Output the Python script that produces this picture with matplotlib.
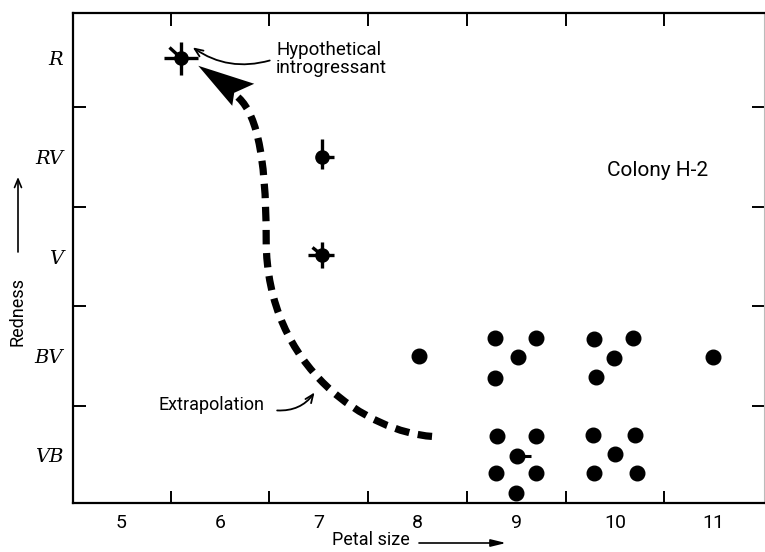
import matplotlib
matplotlib.use("Agg")
import matplotlib.pyplot as plt
from matplotlib.path import Path
from matplotlib.patches import PathPatch, Polygon
from matplotlib import font_manager
import numpy as np

# ---------------- data ----------------
petal_ticks = [5, 6, 7, 8, 9, 10, 11]
redness_labels = ["VB", "BV", "V", "RV", "R"]
redness_pos = [0, 1, 2, 3, 4]

bv_x = [8.02, 8.78, 9.20, 9.02, 8.78, 9.79, 10.18, 9.99, 9.81, 10.99]
bv_y = [1.00, 1.18, 1.18, 0.99, 0.78, 1.17, 1.18, 0.98, 0.79, 0.99]

vb_x = [8.81, 9.20, 9.01, 8.80, 9.20, 9.00, 9.78, 10.20, 10.00, 9.79, 10.22]
vb_y = [0.19, 0.19, -0.01, -0.18, -0.18, -0.38, 0.20, 0.20, 0.01, -0.18, -0.18]

intro_x, intro_y = [5.60], [4.0]
rv_x, rv_y = [7.03], [3.0]
v_x, v_y = [7.03], [2.02]
vbmid_x, vbmid_y = [9.01], [-0.01]

# extrapolation curve (two cubic Bezier segments) and its head
extrap_x = [8.147, 7.519, 6.467, 6.467, 6.467, 6.356, 6.153]
extrap_y = [0.19, 0.232, 0.856, 2.166, 3.073, 3.476, 3.627]
head_x = [5.779, 6.346, 6.143, 6.123]
head_y = [3.919, 3.738, 3.647, 3.516]

# ---------------- fonts ----------------
names = {f.name for f in font_manager.fontManager.ttflist}
SANS = "Liberation Sans Narrow" if "Liberation Sans Narrow" in names else "Roboto"
SERIF = "DejaVu Serif"

W, H = 765, 552
fig = plt.figure(figsize=(W / 100, H / 100), dpi=100)
ax = fig.add_axes([73 / W, (H - 503) / H, (764 - 73) / W, (503 - 13) / H])
ax.set_xlim(4.51, 11.51)
ax.set_ylim(-0.48, 4.45)

for s in ["left", "bottom", "top"]:
    ax.spines[s].set_linewidth(1.6)
ax.spines["right"].set_linewidth(0.8)
ax.spines["right"].set_color("#bbbbbb")

# major ticks at half positions (no labels), minor at category centers (labels)
ax.set_xticks(np.arange(5.5, 11, 1.0))
ax.set_xticklabels([])
ax.set_xticks(petal_ticks, minor=True)
ax.set_xticklabels([str(t) for t in petal_ticks], minor=True,
                   fontsize=14, family=SANS)
ax.set_yticks(np.arange(0.5, 4, 1.0))
ax.set_yticklabels([])
ax.set_yticks(redness_pos, minor=True)
ax.set_yticklabels(redness_labels, minor=True, fontsize=14,
                   family=SERIF, style="italic")
ax.tick_params(which="major", direction="in", length=9, width=1.4,
               top=True, right=True)
ax.tick_params(which="minor", length=0)
ax.tick_params(axis="x", which="minor", pad=8)
ax.tick_params(axis="y", which="minor", pad=7)

# clusters
ax.plot(bv_x, bv_y, "o", color="black", ms=10.5, zorder=3)
ax.plot(vb_x, vb_y, "o", color="black", ms=10.5, zorder=3)

def arm_marker(segments):
    verts, codes = [], []
    for (x0, y0), (x1, y1) in segments:
        verts += [(x0, y0), (x1, y1)]
        codes += [Path.MOVETO, Path.LINETO]
    return Path(verts, codes)

intro_m = arm_marker([((-17, 0), (17, 0)), ((0, -17), (0, 16)), ((0, 0), (-12, 11))])
rv_m = arm_marker([((0, -12), (0, 18)), ((0, 0), (12, 0))])
v_m = arm_marker([((-14, 0), (12, 0)), ((0, -13), (0, 13)), ((0, 0), (-10, 8))])
vbmid_m = arm_marker([((-13, 0), (13, 0))])

ax.plot(intro_x, intro_y, "o", color="black", ms=9.5, zorder=3)
ax.plot(intro_x, intro_y, marker=intro_m, ms=24.5, mew=2.4, color="black",
        mfc="none", ls="none", zorder=3)
ax.plot(rv_x, rv_y, "o", color="black", ms=9.5, zorder=3)
ax.plot(rv_x, rv_y, marker=rv_m, ms=25.9, mew=2.4, color="black",
        mfc="none", ls="none", zorder=3)
ax.plot(v_x, v_y, "o", color="black", ms=9.5, zorder=3)
ax.plot(v_x, v_y, marker=v_m, ms=20.2, mew=2.4, color="black",
        mfc="none", ls="none", zorder=3)
ax.plot([vbmid_x[0] + 0.066], vbmid_y, marker=vbmid_m, ms=9.4, mew=2.2,
        color="black", ls="none", zorder=3)

# extrapolation dashed curve
codes = [Path.MOVETO] + [Path.CURVE4] * 6
curve = Path(np.column_stack([extrap_x, extrap_y]), codes)
ax.add_patch(PathPatch(curve, fill=False, lw=5.2, color="black",
                       linestyle=(0, (2.0, 1.2)), capstyle="butt"))
ax.add_patch(Polygon(np.column_stack([head_x, head_y]), closed=True,
                     color="black", lw=0))

# annotations
ax.text(6.568, 4.17, "Hypothetical\nintrogressant", fontsize=13.5,
        family=SANS, ha="left", va="top", linespacing=1.0)
ax.annotate("", xy=(5.70, 4.12), xytext=(6.53, 3.98),
            arrowprops=dict(arrowstyle="->,head_length=0.6,head_width=0.25",
                            lw=1.3, color="black",
                            connectionstyle="arc3,rad=-0.25"))
ax.text(5.374, 0.504, "Extrapolation", fontsize=13, family=SANS,
        ha="left", va="center")
ax.annotate("", xy=(6.973, 0.655), xytext=(6.55, 0.453),
            arrowprops=dict(arrowstyle="->,head_length=0.6,head_width=0.25",
                            lw=1.3, color="black",
                            connectionstyle="arc3,rad=0.3"))
ax.text(9.917, 2.81, "Colony H-2", fontsize=15, family=SANS,
        ha="left", va="baseline")

# axis labels with arrows
ax.set_xlabel("Petal size", fontsize=13, family=SANS)
ax.xaxis.set_label_coords((371 - 73) / 691, (503 - 531) / 490)
ax.set_ylabel("Redness", fontsize=13, family=SANS)
ax.yaxis.set_label_coords((27 - 73) / 691, (503 - 311) / 490)
ax.annotate("", xy=(506, H - 543), xytext=(419, H - 543),
            xycoords="figure pixels", textcoords="figure pixels",
            arrowprops=dict(arrowstyle="-|>,head_length=0.9,head_width=0.22",
                            lw=1.2, color="black", shrinkA=0, shrinkB=0))
ax.annotate("", xy=(18, H - 177), xytext=(18, H - 252),
            xycoords="figure pixels", textcoords="figure pixels",
            arrowprops=dict(arrowstyle="->,head_length=0.6,head_width=0.25",
                            lw=1.2, color="black", shrinkA=0, shrinkB=0))

fig.savefig("out.png", dpi=100)
